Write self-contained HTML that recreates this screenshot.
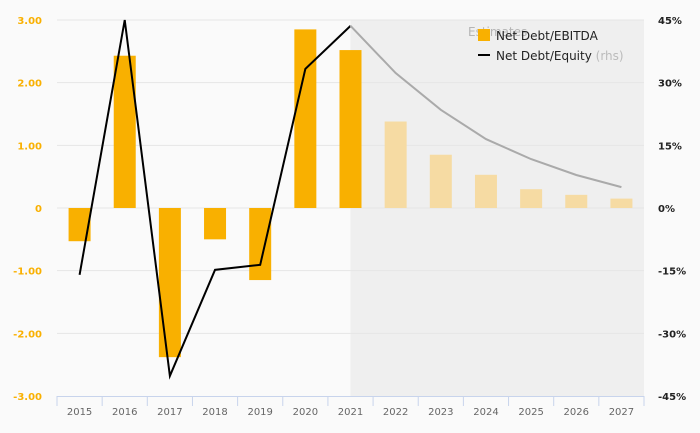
<!DOCTYPE html>
<html><head><meta charset="utf-8"><style>
html,body{margin:0;padding:0;background:#fafafa;}
svg{display:block;font-family:"DejaVu Sans","Liberation Sans",sans-serif;}
</style></head><body>
<svg id="chart" width="700" height="433"></svg>
<script>
const categories=["2015","2016","2017","2018","2019","2020","2021","2022","2023","2024","2025","2026","2027"];
const debtEbitda=[-0.53,2.43,-2.38,-0.5,-1.15,2.85,2.52,1.38,0.85,0.53,0.3,0.21,0.15];
const debtEquity=[-16.0,45.0,-40.2,-14.8,-13.6,33.3,43.6,32.3,23.5,16.5,11.7,7.9,5.0];
const leftTicks=[3,2,1,0,-1,-2,-3];
const rightTicks=[45,30,15,0,-15,-30,-45];
const firstEstimate=7;
const NS="http://www.w3.org/2000/svg";
const svg=document.getElementById('chart');
const X0=57,X1=644,Y0=20,Y1=396;
const band=(X1-X0)/categories.length;
const xc=i=>X0+band*(i+0.5);
const yL=v=>Y0+(3-v)/6*(Y1-Y0);
const yR=v=>Y0+(45-v)/90*(Y1-Y0);
function mk(t,a){const e=document.createElementNS(NS,t);for(const k in a)e.setAttribute(k,a[k]);svg.appendChild(e);return e;}
let r=mk('rect',{x:xc(firstEstimate-1),y:Y0,width:X1-xc(firstEstimate-1),height:Y1-Y0,fill:'#efefef'});

leftTicks.forEach((v,i)=>{
 if(v!==3&&v!==-3){const g=mk('line',{x1:X0,x2:X1,y1:yL(v),y2:yL(v),stroke:'#e6e6e6','stroke-width':1});
 }
 const t=mk('text',{x:42,y:yL(v)+4,'text-anchor':'end','font-size':10,'font-weight':'bold',fill:'#f9b000'});
 t.textContent=v===0?'0':v.toFixed(2);
 
});
let gt=mk('line',{x1:X0,x2:X1,y1:Y0,y2:Y0,stroke:'#e6e6e6'});
rightTicks.forEach(v=>{
 const t=mk('text',{x:658,y:yR(v)+4,'font-size':10,'font-weight':'bold',fill:'#222'});
 t.textContent=v+'%';
 
});
const et=mk('text',{x:468,y:36,'font-size':12,fill:'#b5b5b5'});et.textContent='Estimates';

debtEbitda.forEach((v,i)=>{
 const y=Math.min(yL(v),yL(0)),h=Math.abs(yL(v)-yL(0));
 const b=mk('rect',{x:xc(i)-11,y:y,width:22,height:h,fill:i>=firstEstimate?'#f6dba3':'#f9b000'});
 
});
let p1='',p2='';
debtEquity.forEach((v,i)=>{if(i<firstEstimate)p1+=(i?'L':'M')+xc(i)+','+yR(v);if(i>=firstEstimate-1)p2+=(i===firstEstimate-1?'M':'L')+xc(i)+','+yR(v);});
let l1=mk('path',{d:p1,fill:'none',stroke:'#000','stroke-width':2});
let l2=mk('path',{d:p2,fill:'none',stroke:'#aaa','stroke-width':2});
let ax=mk('line',{x1:X0,x2:X1,y1:Y1+0.5,y2:Y1+0.5,stroke:'#c8d4ec'});
for(let i=0;i<=categories.length;i++){const tk=mk('line',{x1:X0+band*i,x2:X0+band*i,y1:Y1,y2:Y1+10,stroke:'#c8d4ec'});}
categories.forEach((c,i)=>{const t=mk('text',{x:xc(i),y:415,'text-anchor':'middle','font-size':10,fill:'#666'});t.textContent=c;});
let s=mk('rect',{x:478,y:29,width:12,height:12,fill:'#f9b000'});
let t1=mk('text',{x:496,y:40,'font-size':12,fill:'#222'});t1.textContent='Net Debt/EBITDA';
let s2=mk('line',{x1:478,x2:490,y1:55,y2:55,stroke:'#000','stroke-width':2});
let t2=mk('text',{x:496,y:60,'font-size':12,fill:'#222'});t2.innerHTML='Net Debt/Equity <tspan fill="#bbb">(rhs)</tspan>';
</script></body></html>
